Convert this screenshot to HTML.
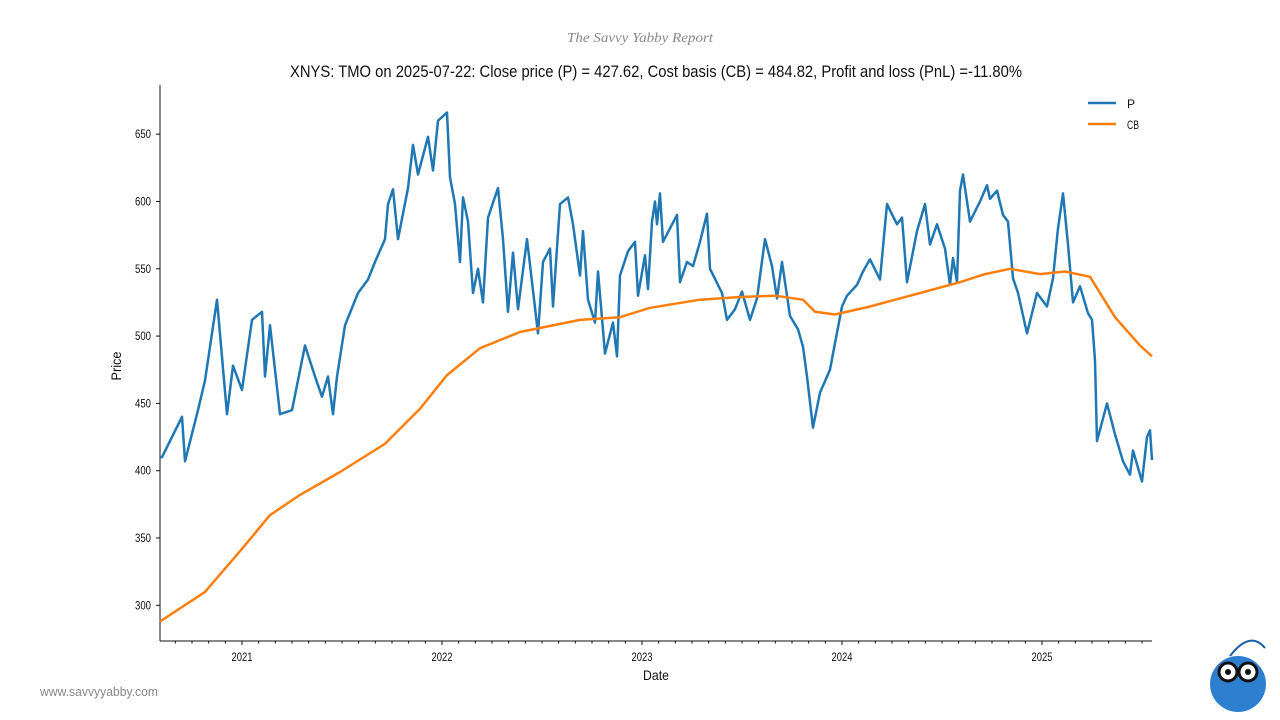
<!DOCTYPE html>
<html><head><meta charset="utf-8"><style>
body{margin:0;background:#fff;width:1280px;height:720px;overflow:hidden;font-family:"Liberation Sans Narrow","Liberation Sans",sans-serif}
svg{display:block}
</style></head><body>
<svg id="chart" width="1280" height="720" xmlns="http://www.w3.org/2000/svg">
<text x="640" y="42" text-anchor="middle" font-family="Liberation Serif,serif" font-style="italic" font-size="14" fill="#888" textLength="146" lengthAdjust="spacingAndGlyphs">The Savvy Yabby Report</text>
<text x="656" y="77" text-anchor="middle" font-size="17" fill="#111" textLength="732" lengthAdjust="spacingAndGlyphs">XNYS: TMO on 2025-07-22: Close price (P) = 427.62, Cost basis (CB) = 484.82, Profit and loss (PnL) =-11.80%</text>
<text transform="translate(121,366) rotate(-90)" text-anchor="middle" font-size="14" fill="#111" textLength="29" lengthAdjust="spacingAndGlyphs">Price</text>
<text x="656" y="680" text-anchor="middle" font-size="14" fill="#111" textLength="26" lengthAdjust="spacingAndGlyphs">Date</text>
<text x="40" y="696" font-size="13" fill="#888" textLength="118" lengthAdjust="spacingAndGlyphs">www.savvyyabby.com</text>
<g>
<circle cx="1238" cy="684" r="28" fill="#2f7fd0"/>
<circle cx="1228" cy="672" r="9" fill="#fff" stroke="#111" stroke-width="3"/>
<circle cx="1248" cy="672" r="9" fill="#fff" stroke="#111" stroke-width="3"/>
<circle cx="1228" cy="672" r="3" fill="#111"/><circle cx="1248" cy="672" r="3" fill="#111"/>
<path d="M1230 656 Q1250 630 1265 648" stroke="#1a5ea8" stroke-width="2" fill="none"/>
</g>
<g id="axes"></g>
<g id="series"></g>
<g>
<line x1="1088" y1="103" x2="1116" y2="103" stroke="#1f77b4" stroke-width="2.5"/>
<text x="1127" y="108" font-size="12" fill="#111">P</text>
<line x1="1088" y1="124" x2="1116" y2="124" stroke="#ff7f0e" stroke-width="2.5"/>
<text x="1127" y="129" font-size="12" fill="#111" textLength="12" lengthAdjust="spacingAndGlyphs">CB</text>
</g>
</svg>
<script>
const pDates=[2020.59,2020.60,2020.70,2020.715,2020.78,2020.815,2020.875,2020.925,2020.955,2021.00,2021.05,2021.10,2021.115,2021.14,2021.19,2021.25,2021.315,2021.365,2021.40,2021.43,2021.455,2021.475,2021.515,2021.58,2021.63,2021.665,2021.715,2021.73,2021.755,2021.78,2021.83,2021.855,2021.88,2021.93,2021.955,2021.98,2022.025,2022.04,2022.065,2022.09,2022.105,2022.13,2022.155,2022.18,2022.205,2022.23,2022.28,2022.305,2022.33,2022.355,2022.38,2022.425,2022.48,2022.505,2022.54,2022.555,2022.59,2022.63,2022.655,2022.69,2022.705,2022.73,2022.765,2022.78,2022.815,2022.855,2022.875,2022.89,2022.93,2022.965,2022.98,2023.015,2023.03,2023.05,2023.065,2023.075,2023.09,2023.105,2023.175,2023.19,2023.225,2023.255,2023.29,2023.325,2023.34,2023.40,2023.425,2023.465,2023.50,2023.54,2023.575,2023.615,2023.65,2023.675,2023.70,2023.74,2023.78,2023.805,2023.825,2023.855,2023.89,2023.94,2023.955,2024.00,2024.025,2024.075,2024.105,2024.14,2024.19,2024.225,2024.275,2024.30,2024.325,2024.375,2024.415,2024.44,2024.475,2024.515,2024.54,2024.555,2024.575,2024.59,2024.605,2024.64,2024.69,2024.725,2024.74,2024.775,2024.805,2024.83,2024.855,2024.88,2024.925,2024.975,2025.025,2025.055,2025.08,2025.105,2025.13,2025.155,2025.19,2025.23,2025.25,2025.265,2025.275,2025.325,2025.365,2025.405,2025.44,2025.455,2025.50,2025.525,2025.54,2025.55];
const pValues=[410,410,440,407,445,467,527,442,478,460,512,518,470,508,442,445,493,470,455,470,442,470,508,532,542,555,572,598,609,572,610,642,620,648,623,660,666,618,598,555,603,585,532,550,525,588,610,572,518,562,520,572,502,555,565,522,598,603,583,545,578,527,510,548,487,510,485,545,563,570,530,560,535,585,600,583,606,570,590,540,555,552,570,591,550,532,512,520,533,512,528,572,552,528,555,515,505,492,470,432,458,475,487,522,530,538,548,557,542,598,583,588,540,578,598,568,583,565,538,558,540,608,620,585,600,612,602,608,590,585,543,532,502,532,522,543,580,606,568,525,537,517,512,482,422,450,427,407,397,415,392,425,430,408,427];
const cbDates=[2020.59,2020.815,2021.0,2021.14,2021.29,2021.49,2021.715,2021.89,2022.025,2022.19,2022.39,2022.69,2022.89,2023.04,2023.29,2023.49,2023.665,2023.805,2023.865,2023.965,2024.14,2024.39,2024.59,2024.715,2024.84,2024.99,2025.115,2025.24,2025.365,2025.49,2025.55];
const cbValues=[288,310,342,367,382,399,420,446,471,491,503,512,514,521,527,529,530,527,518,516,522,532,540,546,550,546,548,544,514,493,485];
const yTicks=[300,350,400,450,500,550,600,650];
const xTickYears=[2021,2022,2023,2024,2025];
const xMin=2020.59,xMax=2025.55,yMin=273.5,yMax=686.5;
const L=160,R=1152,T=85,B=641;
const xs=t=>L+(t-xMin)/(xMax-xMin)*(R-L);
const ys=v=>B-(v-yMin)/(yMax-yMin)*(B-T);
const NS='http://www.w3.org/2000/svg';
const mk=(tag,attrs,parent)=>{const e=document.createElementNS(NS,tag);for(const k in attrs)e.setAttribute(k,attrs[k]);parent.appendChild(e);return e;};
const ax=document.getElementById('axes'),se=document.getElementById('series');
let s=mk('line',{x1:L,y1:T,x2:L,y2:B,stroke:'#111','stroke-width':1},ax);


s=mk('line',{x1:L,y1:B,x2:R,y2:B,stroke:'#111','stroke-width':1},ax);


yTicks.forEach(v=>{const y=ys(v);mk('line',{x1:L-4,y1:y,x2:L,y2:y,stroke:'#111'},ax);
const t=mk('text',{x:L-9,y:y+4,'text-anchor':'end','font-size':12,fill:'#111',textLength:16,lengthAdjust:'spacingAndGlyphs'},ax);t.textContent=v;

});
for(let m=Math.ceil((xMin)*12);m<=xMax*12;m++){const x=xs(m/12);const major=m%12===0;
mk('line',{x1:x,y1:B,x2:x,y2:B+(major?4:2.5),stroke:'#111'},ax);}
xTickYears.forEach(yr=>{const t=mk('text',{x:xs(yr),y:B+20,'text-anchor':'middle','font-size':12,fill:'#111',textLength:21,lengthAdjust:'spacingAndGlyphs'},ax);t.textContent=yr;

});
const path=(d,v)=>d.map((t,i)=>(i?'L':'M')+xs(t).toFixed(1)+' '+ys(v[i]).toFixed(1)).join('');
const pl=mk('path',{d:path(pDates,pValues),fill:'none',stroke:'#1f77b4','stroke-width':2.5,'stroke-linejoin':'round'},se);


const cl=mk('path',{d:path(cbDates,cbValues),fill:'none',stroke:'#ff7f0e','stroke-width':2.5,'stroke-linejoin':'round'},se);


</script>
</body></html>
